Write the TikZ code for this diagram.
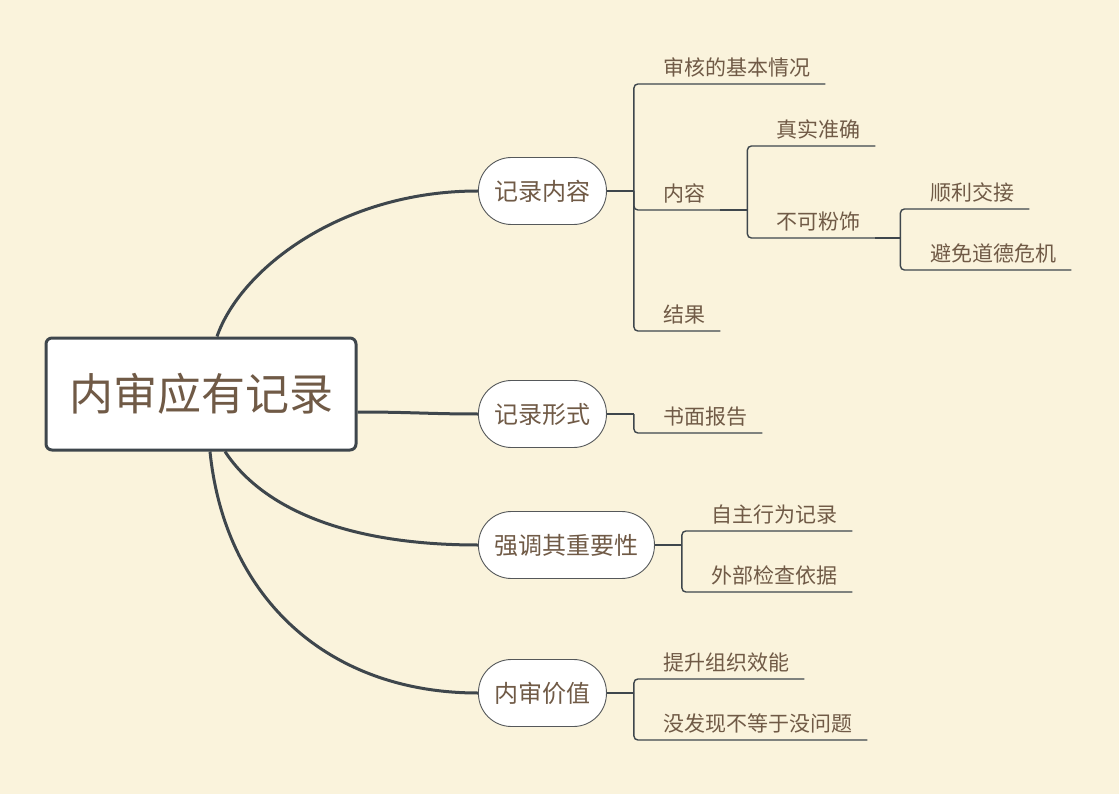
\documentclass[tikz,border=0pt]{standalone}
\usepackage{fontspec}
\setmainfont{Noto Sans CJK SC}
\usepackage{xcolor}
\usepackage{tikz}
\definecolor{paper}{RGB}{250,243,220}
\definecolor{ink}{RGB}{112,90,70}
\definecolor{slate}{RGB}{62,70,76}
\definecolor{rim}{RGB}{85,88,90}

\begin{document}
\begin{tikzpicture}[
  x=1pt, y=-1pt,
  root/.style={draw=slate, line width=3pt, fill=white, rounded corners=6pt,
    minimum width=310pt, minimum height=112pt, text=ink,
    font=\fontsize{44}{48}\selectfont},
  topic/.style={draw=rim, line width=0.9pt, fill=white, rounded corners=33pt,
    minimum height=67pt, inner xsep=16pt, anchor=west, text=ink,
    font=\fontsize{24}{28}\selectfont},
  leaf/.style={anchor=south west, inner xsep=15pt, inner ysep=6.5pt,
    text height=17pt, text depth=1.5pt, text=ink,
    font=\fontsize{21}{24}\selectfont},
  limb/.style={draw=slate, line width=3pt},
  twig/.style={draw=slate, line width=1.4pt, rounded corners=4pt},
]
  \fill[paper] (0,0) rectangle (1119,794);
  \useasboundingbox (0,0) rectangle (1119,794);

  % central topic and main branches
  \node[root] (root) at (201,394) {内审应有记录};
  \node[topic] (b1) at (478,191) {记录内容};
  \node[topic] (b2) at (478,414) {记录形式};
  \node[topic] (b3) at (478,545) {强调其重要性};
  \node[topic] (b4) at (478,693) {内审价值};

  \draw[limb] ([xshift=16pt]root.north) .. controls (240,270) and (340,191) .. (b1.west);
  \draw[limb] ([yshift=-18pt]root.east) .. controls (410,412) and (430,414) .. (b2.west);
  \draw[limb] ([xshift=24pt]root.south) .. controls (260,505) and (340,545) .. (b3.west);
  \draw[limb] ([xshift=9pt]root.south) .. controls (225,600) and (330,693) .. (b4.west);

  % (1) record contents
  \node[leaf] (l11) at (648,84) {审核的基本情况};
  \node[leaf] (l12) at (648,210) {内容};
  \node[leaf] (l13) at (648,331) {结果};
  \draw[twig] (b1.east) -- ++(27,0) coordinate (h1);
  \foreach \n in {l11,l12,l13}
    \draw[twig] (h1) |- (\n.south east);

  \node[leaf] (l121) at (761,146) {真实准确};
  \node[leaf] (l122) at (761,238) {不可粉饰};
  \draw[twig] (l12.south east) -- ++(27,0) coordinate (h12);
  \foreach \n in {l121,l122}
    \draw[twig] (h12) |- (\n.south east);

  \node[leaf] (l1221) at (915,209) {顺利交接};
  \node[leaf] (l1222) at (915,270) {避免道德危机};
  \draw[twig] (l122.south east) -- ++(25,0) coordinate (h122);
  \foreach \n in {l1221,l1222}
    \draw[twig] (h122) |- (\n.south east);

  % (2) record form
  \node[leaf] (l21) at (648,433) {书面报告};
  \draw[twig] (b2.east) -- ++(27,0) coordinate (h2);
  \draw[twig] (h2) |- (l21.south east);

  % (3) importance
  \node[leaf] (l31) at (696,531) {自主行为记录};
  \node[leaf] (l32) at (696,592) {外部检查依据};
  \draw[twig] (b3.east) -- ++(27,0) coordinate (h3);
  \foreach \n in {l31,l32}
    \draw[twig] (h3) |- (\n.south east);

  % (4) value
  \node[leaf] (l41) at (648,679) {提升组织效能};
  \node[leaf] (l42) at (648,740) {没发现不等于没问题};
  \draw[twig] (b4.east) -- ++(27,0) coordinate (h4);
  \foreach \n in {l41,l42}
    \draw[twig] (h4) |- (\n.south east);
\end{tikzpicture}
\end{document}
